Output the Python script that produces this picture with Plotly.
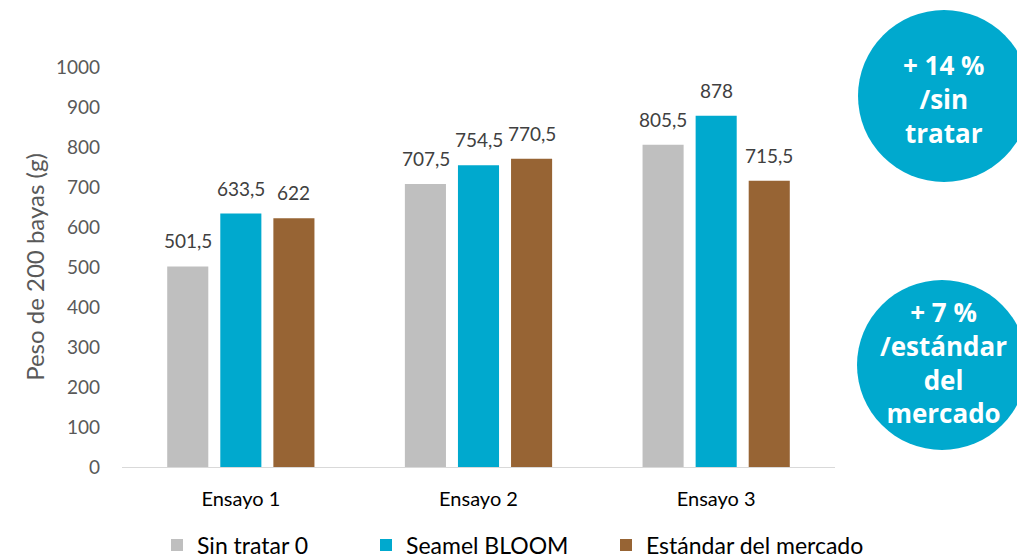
import plotly.graph_objects as go

categories = ["Ensayo 1", "Ensayo 2", "Ensayo 3"]
sin_tratar = [501.5, 707.5, 805.5]
seamel_bloom = [633.5, 754.5, 878]
estandar = [622, 770.5, 715.5]
y_ticks = [0, 100, 200, 300, 400, 500, 600, 700, 800, 900, 1000]

series = [
    ("Sin tratar 0", sin_tratar, "#BFBFBF", "legend", 157),
    ("Seamel BLOOM", seamel_bloom, "#00A9CE", "legend2", 366),
    ("Estándar del mercado", estandar, "#976434", "legend3", 606),
]

FONT = "Lato"
W, H = 1017, 560
L, R, T, B = 122, 182, 67, 93
pw, ph = W - L - R, H - T - B

def px(x):
    return (x - L) / pw

def py(y):
    return (H - B - y) / ph

fig = go.Figure()
annotations = []
slot = 53  # px between bar centres within a group
for i, (name, vals, col, leg, lx) in enumerate(series):
    fig.add_trace(go.Bar(
        x=categories, y=vals, name=name, legend=leg,
        marker=dict(color=col, line=dict(width=0)),
    ))
    for c, v in zip(categories, vals):
        annotations.append(dict(
            x=c, y=v, xref="x", yref="y", text=f"{v:g}".replace(".", ","),
            showarrow=False, xanchor="center", yanchor="bottom",
            xshift=(i - 1) * slot, yshift=12,
            font=dict(family=FONT, size=19, color="#404040"),
        ))

shapes = [
    dict(type="circle", xref="paper", yref="paper", x0=px(858), x1=px(1030), y0=py(182), y1=py(10),
         fillcolor="#00A9CE", line=dict(width=0), layer="below"),
    dict(type="circle", xref="paper", yref="paper", x0=px(857), x1=px(1027), y0=py(450), y1=py(280),
         fillcolor="#00A9CE", line=dict(width=0), layer="below"),
]

annotations += [
    dict(xref="paper", yref="paper", x=px(944), y=py(99), xanchor="center", yanchor="middle",
         text="<b>+ 14 %<br>/sin<br>tratar</b>",
         showarrow=False, font=dict(family="Open Sans", size=26, color="white"), align="center"),
    dict(xref="paper", yref="paper", x=px(944), y=py(362), xanchor="center", yanchor="middle",
         text="<b>+ 7 %<br>/estándar<br>del<br>mercado</b>",
         showarrow=False, font=dict(family="Open Sans", size=26, color="white"), align="center"),
]

def legend_at(xpix):
    return dict(orientation="h", xref="container", yref="container",
                x=xpix / W, xanchor="left", y=1 - 545 / H, yanchor="middle",
                font=dict(family=FONT, size=23, color="#000000"), bgcolor="rgba(0,0,0,0)")

fig.update_layout(
    width=W, height=H,
    margin=dict(l=L, r=R, t=T, b=B, autoexpand=False),
    paper_bgcolor="white", plot_bgcolor="white",
    barmode="group", bargap=0.33, bargroupgap=0.226,
    font=dict(family=FONT, color="#595959"),
    shapes=shapes, annotations=annotations,
    showlegend=True,
    legend=legend_at(series[0][4]),
    legend2=legend_at(series[1][4]),
    legend3=legend_at(series[2][4]),
    xaxis=dict(showline=True, linecolor="#D9D9D9", linewidth=1, ticks="", showgrid=False,
               tickfont=dict(family=FONT, size=20, color="#000000"), ticklabelstandoff=14),
    yaxis=dict(range=[0, 1000], tickvals=y_ticks, showgrid=False, zeroline=False, showline=False,
               tickfont=dict(family=FONT, size=19, color="#595959"), ticklabelstandoff=21,
               title=dict(text="Peso de 200 bayas (g)", font=dict(family=FONT, size=24, color="#595959"), standoff=4)),
)

fig.write_html("out.html", config={"displayModeBar": False},
               post_script="document.body.style.margin='0';document.body.style.overflow='hidden';")
